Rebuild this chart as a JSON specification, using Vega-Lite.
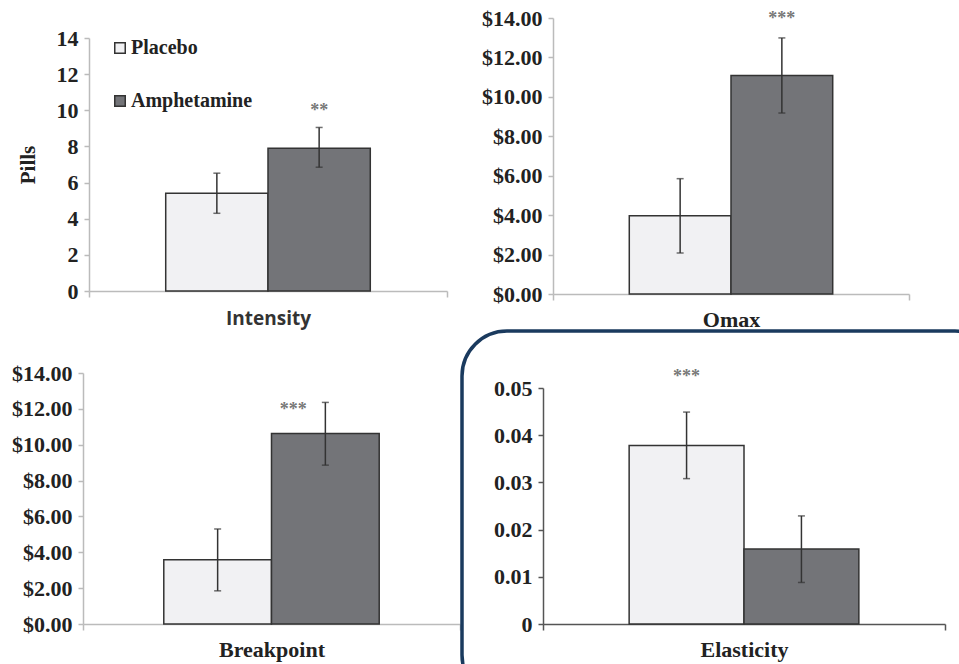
{
  "$schema": "https://vega.github.io/schema/vega-lite/v6.json",
  "padding": {"left": 11, "top": 7, "right": 0, "bottom": 0},
  "background": "white",
  "config": {
    "view": {"stroke": null},
    "axis": {"grid": false, "labelOverlap": false, "labelFont": "Liberation Serif", "labelFontWeight": "bold", "labelColor": "#222", "titleFont": "Liberation Serif", "titleFontWeight": "bold", "titleColor": "#222", "domainWidth": 1.5, "tickWidth": 1.5, "domainColor": "#bbbbbb", "tickColor": "#bbbbbb"}
  },
  "datasets": {
    "bars": [
      {"panel": "Intensity", "condition": "Placebo", "value": 5.41, "lo": 4.3, "hi": 6.52},
      {"panel": "Intensity", "condition": "Amphetamine", "value": 7.9, "lo": 6.85, "hi": 9.05},
      {"panel": "Omax", "condition": "Placebo", "value": 3.97, "lo": 2.08, "hi": 5.85},
      {"panel": "Omax", "condition": "Amphetamine", "value": 11.08, "lo": 9.18, "hi": 12.99},
      {"panel": "Breakpoint", "condition": "Placebo", "value": 3.58, "lo": 1.85, "hi": 5.3},
      {"panel": "Breakpoint", "condition": "Amphetamine", "value": 10.62, "lo": 8.86, "hi": 12.36},
      {"panel": "Elasticity", "condition": "Placebo", "value": 0.0378, "lo": 0.0308, "hi": 0.0449},
      {"panel": "Elasticity", "condition": "Amphetamine", "value": 0.0159, "lo": 0.0088, "hi": 0.0229}
    ],
    "stars": [
      {"panel": "Intensity", "condition": "Amphetamine", "label": "**", "y": 10.1},
      {"panel": "Omax", "condition": "Amphetamine", "label": "***", "y": 14.1},
      {"panel": "Breakpoint", "condition": "Amphetamine", "label": "***", "y": 12.1},
      {"panel": "Elasticity", "condition": "Placebo", "label": "***", "y": 0.053}
    ]
  },
  "columns": 2,
  "align": "each",
  "bounds": "flush",
  "spacing": {"row": 37, "column": 2},
  "resolve": {"scale": {"fill": "independent", "x": "independent", "y": "independent", "xOffset": "independent"}, "legend": {"fill": "independent"}},
  "concat": [
    {
      "width": 377, "height": 276,
      "encoding": {
        "x": {"field": "panel", "type": "nominal", "scale": {"range": [6, 364], "paddingInner": 0, "paddingOuter": 0},
          "axis": {"title": null, "tickBand": "extent", "offset": -3, "labelFont": "Open Sans", "labelFontWeight": "bold", "labelFontSize": 19, "labelColor": "#333", "labelPadding": 12, "tickSize": 6, "labelAngle": 0}},
        "xOffset": {"field": "condition", "type": "nominal", "sort": ["Placebo", "Amphetamine"], "scale": {"domain": ["Placebo", "Amphetamine"], "paddingInner": 0, "paddingOuter": 0.75}}
      },
      "layer": [
        {"data": {"name": "bars"}, "transform": [{"filter": "datum.panel === 'Intensity'"}],
         "mark": {"type": "bar", "stroke": "#333", "strokeWidth": 1.5},
         "encoding": {
           "y": {"field": "value", "type": "quantitative", "title": "Pills", "scale": {"domain": [0, 14], "range": [273, 20], "nice": false},
             "axis": {"values": [0, 2, 4, 6, 8, 10, 12, 14], "tickCount": 20, "format": "d", "offset": -6, "labelFontSize": 22, "labelPadding": 6, "tickSize": 5, "titleFontSize": 21, "titlePadding": 18}},
           "fill": {"field": "condition", "type": "nominal", "sort": ["Placebo", "Amphetamine"], "scale": {"domain": ["Placebo", "Amphetamine"], "range": ["#f1f1f3", "#737478"]},
             "legend": {"orient": "none", "legendX": 27, "legendY": 20, "title": null, "symbolType": "square", "symbolSize": 110, "symbolStrokeColor": "#333", "symbolStrokeWidth": 1.5, "labelFont": "Liberation Serif", "labelFontWeight": "bold", "labelFontSize": 20, "labelColor": "#222", "rowPadding": 33, "labelOffset": 1}}
         }},
        {"data": {"name": "bars"}, "transform": [{"filter": "datum.panel === 'Intensity'"}],
         "mark": {"type": "rule", "color": "#333", "strokeWidth": 1.5},
         "encoding": {"y": {"field": "lo", "type": "quantitative", "title": "Pills", "scale": {"domain": [0, 14], "range": [273, 20], "nice": false}}, "y2": {"field": "hi"}}},
        {"data": {"name": "bars"}, "transform": [{"filter": "datum.panel === 'Intensity'"}],
         "mark": {"type": "tick", "orient": "horizontal", "size": 7, "thickness": 1.5, "color": "#333"},
         "encoding": {"y": {"field": "lo", "type": "quantitative", "title": "Pills", "scale": {"domain": [0, 14], "range": [273, 20], "nice": false}}}},
        {"data": {"name": "bars"}, "transform": [{"filter": "datum.panel === 'Intensity'"}],
         "mark": {"type": "tick", "orient": "horizontal", "size": 7, "thickness": 1.5, "color": "#333"},
         "encoding": {"y": {"field": "hi", "type": "quantitative", "title": "Pills", "scale": {"domain": [0, 14], "range": [273, 20], "nice": false}}}},
        {"data": {"name": "stars"}, "transform": [{"filter": "datum.panel === 'Intensity'"}],
         "mark": {"type": "text", "font": "Liberation Serif", "fontWeight": "bold", "fontSize": 18, "color": "#777", "baseline": "middle", "dy": 3},
         "encoding": {"y": {"field": "y", "type": "quantitative", "title": "Pills", "scale": {"domain": [0, 14], "range": [273, 20], "nice": false}}, "text": {"field": "label"}}}
      ]
    },
    {
      "width": 538, "height": 276,
      "encoding": {
        "x": {"field": "panel", "type": "nominal", "scale": {"range": [91, 447], "paddingInner": 0, "paddingOuter": 0},
          "axis": {"title": null, "tickBand": "extent", "labelFontSize": 22, "labelPadding": 9, "tickSize": 6, "labelAngle": 0}},
        "xOffset": {"field": "condition", "type": "nominal", "sort": ["Placebo", "Amphetamine"], "scale": {"domain": ["Placebo", "Amphetamine"], "paddingInner": 0, "paddingOuter": 0.75}}
      },
      "layer": [
        {"data": {"name": "bars"}, "transform": [{"filter": "datum.panel === 'Omax'"}],
         "mark": {"type": "bar", "stroke": "#333", "strokeWidth": 1.5},
         "encoding": {
           "y": {"field": "value", "type": "quantitative", "title": null, "scale": {"domain": [0, 14], "nice": false},
             "axis": {"values": [0, 2, 4, 6, 8, 10, 12, 14], "tickCount": 20, "format": "$.2f", "offset": -91, "labelFontSize": 22, "labelPadding": 6, "tickSize": 5}},
           "fill": {"field": "condition", "type": "nominal", "scale": {"domain": ["Placebo", "Amphetamine"], "range": ["#f1f1f3", "#737478"]}, "legend": null}
         }},
        {"data": {"name": "bars"}, "transform": [{"filter": "datum.panel === 'Omax'"}],
         "mark": {"type": "rule", "color": "#333", "strokeWidth": 1.5},
         "encoding": {"y": {"field": "lo", "type": "quantitative", "title": null, "scale": {"domain": [0, 14], "nice": false}}, "y2": {"field": "hi"}}},
        {"data": {"name": "bars"}, "transform": [{"filter": "datum.panel === 'Omax'"}],
         "mark": {"type": "tick", "orient": "horizontal", "size": 7, "thickness": 1.5, "color": "#333"},
         "encoding": {"y": {"field": "lo", "type": "quantitative", "title": null, "scale": {"domain": [0, 14], "nice": false}}}},
        {"data": {"name": "bars"}, "transform": [{"filter": "datum.panel === 'Omax'"}],
         "mark": {"type": "tick", "orient": "horizontal", "size": 7, "thickness": 1.5, "color": "#333"},
         "encoding": {"y": {"field": "hi", "type": "quantitative", "title": null, "scale": {"domain": [0, 14], "nice": false}}}},
        {"data": {"name": "stars"}, "transform": [{"filter": "datum.panel === 'Omax'"}],
         "mark": {"type": "text", "font": "Liberation Serif", "fontWeight": "bold", "fontSize": 18, "color": "#777", "baseline": "middle", "dy": 3, "clip": false},
         "encoding": {"y": {"field": "y", "type": "quantitative", "title": null, "scale": {"domain": [0, 14], "nice": false}}, "text": {"field": "label"}}}
      ]
    },
    {
      "width": 377, "height": 369,
      "encoding": {
        "x": {"field": "panel", "type": "nominal", "scale": {"range": [0, 377], "paddingInner": 0, "paddingOuter": 0},
          "axis": {"title": null, "tickBand": "extent", "offset": -76, "labelFontSize": 22, "labelPadding": 9, "tickSize": 6, "labelAngle": 0}},
        "xOffset": {"field": "condition", "type": "nominal", "sort": ["Placebo", "Amphetamine"], "scale": {"domain": ["Placebo", "Amphetamine"], "paddingInner": 0, "paddingOuter": 0.75}}
      },
      "layer": [
        {"data": {"name": "bars"}, "transform": [{"filter": "datum.panel === 'Breakpoint'"}],
         "mark": {"type": "bar", "stroke": "#333", "strokeWidth": 1.5},
         "encoding": {
           "y": {"field": "value", "type": "quantitative", "title": null, "scale": {"domain": [0, 14], "range": [293, 42], "nice": false},
             "axis": {"values": [0, 2, 4, 6, 8, 10, 12, 14], "tickCount": 20, "format": "$.2f", "labelFontSize": 22, "labelPadding": 6, "tickSize": 5}},
           "fill": {"field": "condition", "type": "nominal", "scale": {"domain": ["Placebo", "Amphetamine"], "range": ["#f1f1f3", "#737478"]}, "legend": null}
         }},
        {"data": {"name": "bars"}, "transform": [{"filter": "datum.panel === 'Breakpoint'"}],
         "mark": {"type": "rule", "color": "#333", "strokeWidth": 1.5},
         "encoding": {"y": {"field": "lo", "type": "quantitative", "title": null, "scale": {"domain": [0, 14], "range": [293, 42], "nice": false}}, "y2": {"field": "hi"}}},
        {"data": {"name": "bars"}, "transform": [{"filter": "datum.panel === 'Breakpoint'"}],
         "mark": {"type": "tick", "orient": "horizontal", "size": 7, "thickness": 1.5, "color": "#333"},
         "encoding": {"y": {"field": "lo", "type": "quantitative", "title": null, "scale": {"domain": [0, 14], "range": [293, 42], "nice": false}}}},
        {"data": {"name": "bars"}, "transform": [{"filter": "datum.panel === 'Breakpoint'"}],
         "mark": {"type": "tick", "orient": "horizontal", "size": 7, "thickness": 1.5, "color": "#333"},
         "encoding": {"y": {"field": "hi", "type": "quantitative", "title": null, "scale": {"domain": [0, 14], "range": [293, 42], "nice": false}}}},
        {"data": {"name": "stars"}, "transform": [{"filter": "datum.panel === 'Breakpoint'"}],
         "mark": {"type": "text", "font": "Liberation Serif", "fontWeight": "bold", "fontSize": 18, "color": "#777", "baseline": "middle", "dx": -32, "dy": 3},
         "encoding": {"y": {"field": "y", "type": "quantitative", "title": null, "scale": {"domain": [0, 14], "range": [293, 42], "nice": false}}, "text": {"field": "label"}}}
      ]
    },
    {
      "width": 538, "height": 369,
      "view": {"stroke": "#1a3a5e", "strokeWidth": 3.5, "cornerRadius": 45, "fill": null},
      "encoding": {
        "x": {"field": "panel", "type": "nominal", "scale": {"range": [81, 483], "paddingInner": 0, "paddingOuter": 0},
          "axis": {"title": null, "tickBand": "extent", "offset": -76, "labelFontSize": 22, "labelPadding": 9, "tickSize": 6, "labelAngle": 0, "domainColor": "#555", "tickColor": "#555"}},
        "xOffset": {"field": "condition", "type": "nominal", "sort": ["Placebo", "Amphetamine"], "scale": {"domain": ["Placebo", "Amphetamine"], "paddingInner": 0, "paddingOuter": 0.75}}
      },
      "layer": [
        {"data": {"name": "bars"}, "transform": [{"filter": "datum.panel === 'Elasticity'"}],
         "mark": {"type": "bar", "stroke": "#333", "strokeWidth": 1.5},
         "encoding": {
           "y": {"field": "value", "type": "quantitative", "title": null, "scale": {"domain": [0, 0.05], "range": [293, 57], "nice": false},
             "axis": {"values": [0, 0.01, 0.02, 0.03, 0.04, 0.05], "tickCount": 20, "format": ".2~f", "offset": -81, "labelFontSize": 22, "labelPadding": 6, "tickSize": 5, "domainColor": "#555", "tickColor": "#555"}},
           "fill": {"field": "condition", "type": "nominal", "scale": {"domain": ["Placebo", "Amphetamine"], "range": ["#f1f1f3", "#737478"]}, "legend": null}
         }},
        {"data": {"name": "bars"}, "transform": [{"filter": "datum.panel === 'Elasticity'"}],
         "mark": {"type": "rule", "color": "#333", "strokeWidth": 1.5},
         "encoding": {"y": {"field": "lo", "type": "quantitative", "title": null, "scale": {"domain": [0, 0.05], "range": [293, 57], "nice": false}}, "y2": {"field": "hi"}}},
        {"data": {"name": "bars"}, "transform": [{"filter": "datum.panel === 'Elasticity'"}],
         "mark": {"type": "tick", "orient": "horizontal", "size": 7, "thickness": 1.5, "color": "#333"},
         "encoding": {"y": {"field": "lo", "type": "quantitative", "title": null, "scale": {"domain": [0, 0.05], "range": [293, 57], "nice": false}}}},
        {"data": {"name": "bars"}, "transform": [{"filter": "datum.panel === 'Elasticity'"}],
         "mark": {"type": "tick", "orient": "horizontal", "size": 7, "thickness": 1.5, "color": "#333"},
         "encoding": {"y": {"field": "hi", "type": "quantitative", "title": null, "scale": {"domain": [0, 0.05], "range": [293, 57], "nice": false}}}},
        {"data": {"name": "stars"}, "transform": [{"filter": "datum.panel === 'Elasticity'"}],
         "mark": {"type": "text", "font": "Liberation Serif", "fontWeight": "bold", "fontSize": 18, "color": "#777", "baseline": "middle", "dy": 3},
         "encoding": {"y": {"field": "y", "type": "quantitative", "title": null, "scale": {"domain": [0, 0.05], "range": [293, 57], "nice": false}}, "text": {"field": "label"}}}
      ]
    }
  ]
}
